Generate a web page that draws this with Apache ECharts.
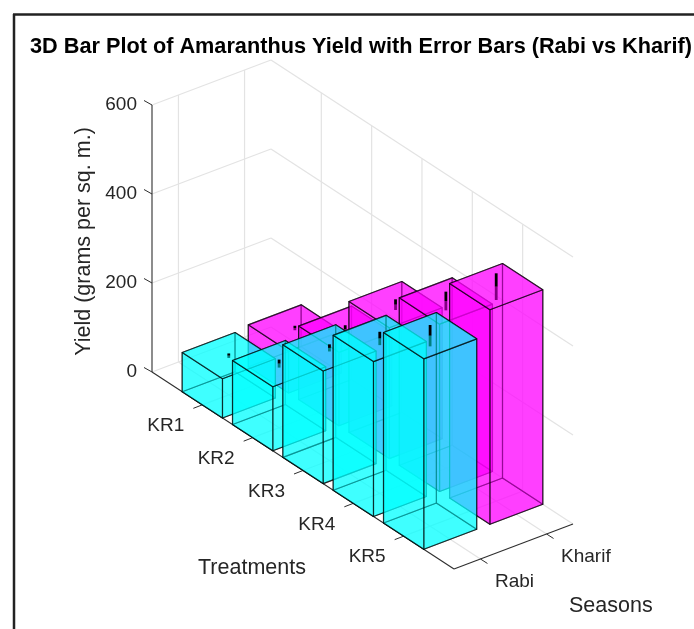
<!DOCTYPE html>
<html><head><meta charset="utf-8">
<style>html,body{margin:0;padding:0;background:#fff}#c{width:694px;height:629px}</style>
<script src="https://cdn.jsdelivr.net/npm/echarts@6/dist/echarts.min.js"></script>
</head><body><div id="c"></div>
<script>
const treatments = ['KR1','KR2','KR3','KR4','KR5'];
const seasons = ['Rabi','Kharif'];
const yieldTicks = [0,200,400,600];
const rabiYield = [88,144,253,348,428];
const kharifYield = [94,165,294,376,482];
const rabiError = [5,9,8,15,24];
const kharifError = [5,9,12,21,30];
const titleText = '3D Bar Plot of Amaranthus Yield with Error Bars (Rabi vs Kharif)';

const FONT = '"Liberation Sans", Arial, sans-serif';
const TEXT = '#262626';
const X_MAX = 6, DEPTH_MIN = 0.6, DEPTH_MAX = 2.4, BAR_HALF = 0.4;
const X_DROP = 32.83, DEPTH_DX = 66.1, DEPTH_DY = 25;

function projector(api){
  return (x, d, z) => {
    const p = api.coord([x, z]);
    return [p[0] + (d - DEPTH_MIN) * DEPTH_DX, p[1] + x * X_DROP - (d - DEPTH_MIN) * DEPTH_DY];
  };
}
function seg(a, b, color, width){
  return {type:'line', shape:{x1:a[0],y1:a[1],x2:b[0],y2:b[1]}, style:{stroke:color,lineWidth:width}};
}
const xTicks = treatments.map((_, i) => i + 1);
const dTicks = seasons.map((_, i) => i + 1);
const GRID = '#e3e3e3', AXIS = '#2e2e2e';

function renderFrame(params, api){
  const P = projector(api), c = [];
  yieldTicks.forEach(z => {
    c.push(seg(P(0,DEPTH_MIN,z), P(0,DEPTH_MAX,z), GRID, 1.2));
    c.push(seg(P(0,DEPTH_MAX,z), P(X_MAX,DEPTH_MAX,z), GRID, 1.2));
  });
  const zTop = yieldTicks[yieldTicks.length-1];
  dTicks.forEach(d => {
    c.push(seg(P(0,d,0), P(0,d,zTop), GRID, 1.2));
    c.push(seg(P(0,d,0), P(X_MAX,d,0), GRID, 1.2));
  });
  xTicks.forEach(x => {
    c.push(seg(P(x,DEPTH_MAX,0), P(x,DEPTH_MAX,zTop), GRID, 1.2));
    c.push(seg(P(x,DEPTH_MIN,0), P(x,DEPTH_MAX,0), GRID, 1.2));
  });
  c.push(seg(P(0,DEPTH_MIN,0), P(0,DEPTH_MIN,zTop), AXIS, 1.1));
  c.push(seg(P(0,DEPTH_MIN,0), P(X_MAX,DEPTH_MIN,0), AXIS, 1.1));
  c.push(seg(P(X_MAX,DEPTH_MIN,0), P(X_MAX,DEPTH_MAX,0), AXIS, 1.1));
  yieldTicks.forEach(z => {
    const a = P(0,DEPTH_MIN,z);
    c.push(seg(a, [a[0]-8, a[1]-4.5], AXIS, 1));
  });
  xTicks.forEach((x, i) => {
    const a = P(x,DEPTH_MIN,0);
    c.push(seg(a, [a[0]-9, a[1]+3.5], AXIS, 1));
    c.push({type:'text', style:{x:a[0]-36.5, y:a[1]+21, text:treatments[i], fill:TEXT,
      font:'19px '+FONT, align:'center', verticalAlign:'middle'}});
  });
  dTicks.forEach((d, i) => {
    const a = P(X_MAX,d,0);
    c.push(seg(a, [a[0]+7, a[1]+4.5], AXIS, 1));
    c.push({type:'text', style:{x:a[0]+14.5, y:a[1]+23, text:seasons[i], fill:TEXT,
      font:'19px '+FONT, align:'left', verticalAlign:'middle'}});
  });
  return {type:'group', children:c};
}

function poly(points, fill){
  return {type:'polygon', shape:{points}, style:{fill, stroke:'rgba(0,0,0,0.64)', lineWidth:1.2, lineJoin:'round'}};
}
function renderBar(fill){
  return function(params, api){
    const P = projector(api);
    const x = api.value(0), d = api.value(1), v = api.value(2), e = api.value(3);
    const x0 = x-BAR_HALF, x1 = x+BAR_HALF, d0 = d-BAR_HALF, d1 = d+BAR_HALF;
    const face = pts => poly(pts.map(q => P(q[0],q[1],q[2])), fill);
    const c = [
      face([[x0,d0,0],[x1,d0,0],[x1,d1,0],[x0,d1,0]]),
      face([[x0,d0,0],[x0,d1,0],[x0,d1,v],[x0,d0,v]]),
      face([[x0,d1,0],[x1,d1,0],[x1,d1,v],[x0,d1,v]]),
      seg(P(x,d,v-e), P(x,d,v), '#000', 2.8),
      face([[x1,d0,0],[x1,d1,0],[x1,d1,v],[x1,d0,v]]),
      face([[x0,d0,0],[x1,d0,0],[x1,d0,v],[x0,d0,v]]),
      face([[x0,d0,v],[x1,d0,v],[x1,d1,v],[x0,d1,v]]),
      seg(P(x,d,v), P(x,d,v+e), '#000', 2.8)
    ];
    return {type:'group', children:c};
  };
}
const rows = (vals, errs, season) => vals.map((v, i) => [i+1, season, v, errs[i]]);

const chart = echarts.init(document.getElementById('c'), null, {renderer:'canvas', width:694, height:629});
chart.setOption({
  animation:false,
  backgroundColor:'#fff',
  title:{text:titleText, left:30, top:36, padding:0,
    textStyle:{fontFamily:FONT, fontWeight:'bold', fontSize:21.7, color:'#000'}},
  grid:{left:152, top:105, width:302, height:267},
  xAxis:{type:'value', min:0, max:X_MAX, show:false},
  yAxis:{type:'value', min:0, max:600, interval:200,
    axisLine:{show:false}, axisTick:{show:false}, splitLine:{show:false},
    axisLabel:{color:TEXT, fontFamily:FONT, fontSize:19, margin:15, padding:[0,0,8,0]},
    name:'Yield (grams per sq. m.)', nameLocation:'middle', nameGap:57, nameRotate:90,
    nameTextStyle:{color:TEXT, fontFamily:FONT, fontSize:21.5, padding:[0,6,0,0]}},
  graphic:[
    {type:'text', left:198, top:557, style:{text:'Treatments', fill:TEXT, font:'21.5px '+FONT}},
    {type:'text', left:569, top:595, style:{text:'Seasons', fill:TEXT, font:'21.5px '+FONT}},
    {type:'line', shape:{x1:13,y1:14.5,x2:694,y2:14.5}, style:{stroke:'#222',lineWidth:2.5}},
    {type:'line', shape:{x1:14,y1:14,x2:14,y2:629}, style:{stroke:'#222',lineWidth:2.5}}
  ],
  series:[
    {type:'custom', coordinateSystem:'cartesian2d', silent:true, data:[[0,0]], renderItem:renderFrame,
     encode:{x:0,y:1}},
    {type:'custom', name:seasons[1], coordinateSystem:'cartesian2d', data:rows(kharifYield,kharifError,2),
     renderItem:renderBar('rgba(255,0,255,0.5)'), encode:{x:0,y:2}},
    {type:'custom', name:seasons[0], coordinateSystem:'cartesian2d', data:rows(rabiYield,rabiError,1),
     renderItem:renderBar('rgba(0,255,255,0.5)'), encode:{x:0,y:2}}
  ]
});
</script></body></html>
